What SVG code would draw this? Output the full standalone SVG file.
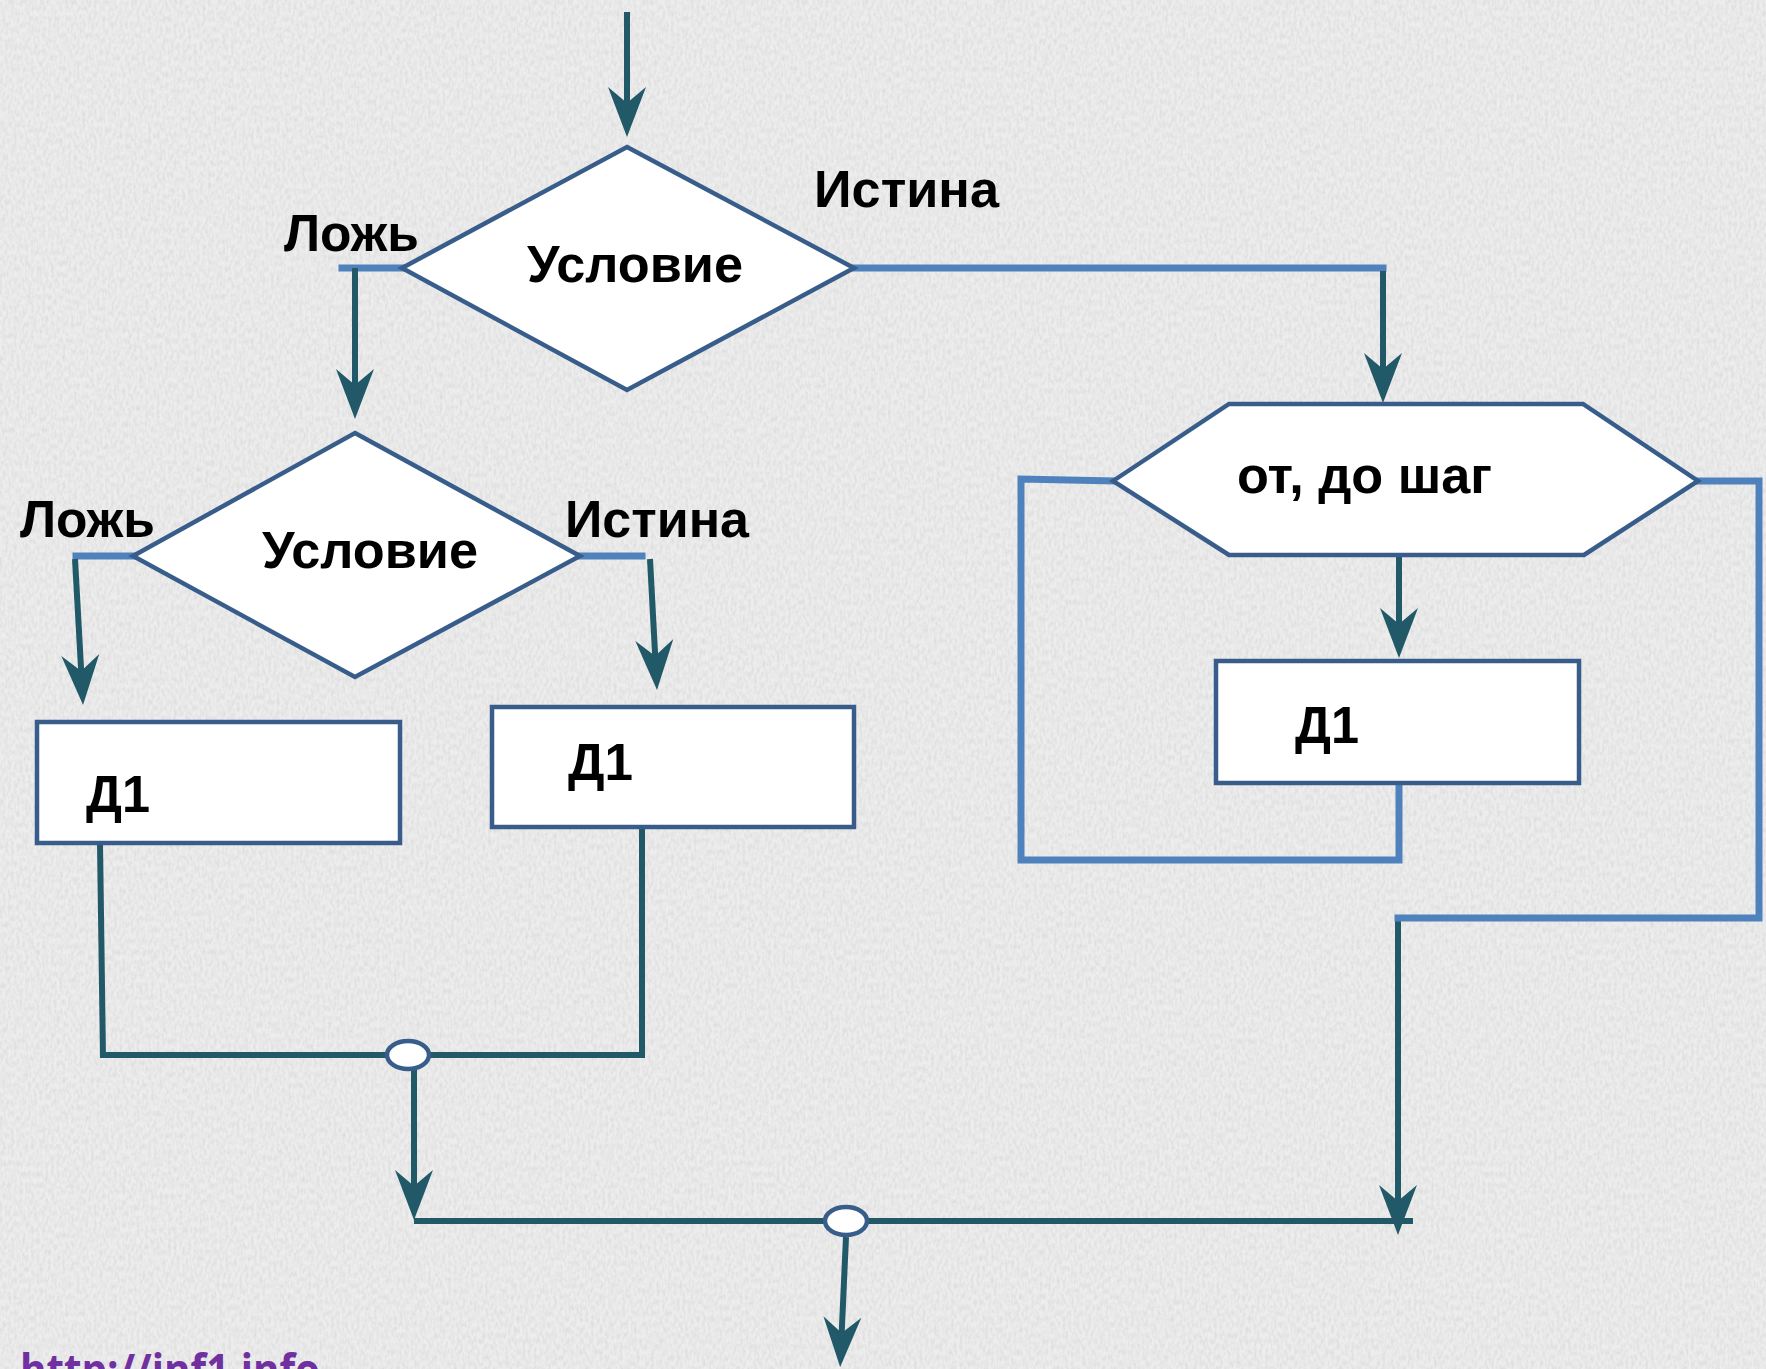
<svg xmlns="http://www.w3.org/2000/svg" width="1766" height="1369" viewBox="0 0 1766 1369">
  <style>
    .shape { fill: #ffffff; stroke: #385d8a; stroke-width: 4.5; stroke-linejoin: miter; }
    .flow { fill: none; stroke: #215968; stroke-width: 6; }
    .loop { fill: none; stroke: #4f81bd; stroke-width: 7; stroke-linecap: square; }
    .joint { fill: #ffffff; stroke: #385d8a; stroke-width: 4.5; }
    .lbl { font-family: "Liberation Sans", Arial, sans-serif; font-weight: bold; font-size: 52px; fill: #000000; }
    .url { font-family: "Open Sans", "Liberation Sans", sans-serif; font-weight: bold; font-size: 44px; fill: #7030a0; }
  </style>
  <defs>
    <marker id="arrow" markerUnits="userSpaceOnUse" viewBox="0 -20 50 40" markerWidth="50" markerHeight="40" refX="20" refY="0" orient="auto">
      <path d="M50,0 L0,-19 L16,0 L0,19 Z" fill="#215968"/>
    </marker>
    <filter id="grain" x="0" y="0" width="100%" height="100%">
      <feTurbulence type="fractalNoise" baseFrequency="0.35 0.18" numOctaves="3" seed="7" result="n"/>
      <feColorMatrix type="matrix" values="0 0 0 0 0.55  0 0 0 0 0.55  0 0 0 0 0.55  0 0 0 -1.6 1.05"/>
    </filter>
  </defs>

  <!-- stone-like page background -->
  <rect x="0" y="0" width="1766" height="1369" fill="#ededed"/>
  <rect x="0" y="0" width="1766" height="1369" filter="url(#grain)" opacity="0.45"/>

  <!-- connectors -->
  <g id="connectors">
    <!-- entry -->
    <path class="flow" d="M627,12 V107" marker-end="url(#arrow)"/>
    <!-- outer decision: false -->
    <path class="loop" d="M342,268 H402" stroke-linecap="butt"/>
    <path class="flow" d="M355,268 V389" marker-end="url(#arrow)"/>
    <!-- outer decision: true -->
    <path class="loop" d="M854,268 H1383" stroke-linecap="butt"/>
    <path class="flow" d="M1383,271 V373" marker-end="url(#arrow)"/>
    <!-- inner decision: false -->
    <path class="loop" d="M76,556 H133" stroke-linecap="butt"/>
    <path class="flow" d="M75,559 L81.4,675" marker-end="url(#arrow)"/>
    <!-- inner decision: true -->
    <path class="loop" d="M581,556 H642" stroke-linecap="butt"/>
    <path class="flow" d="M650,559 L655.4,660" marker-end="url(#arrow)"/>
    <!-- inner merge -->
    <path class="flow" d="M100,843 L103,1058"/>
    <path class="flow" d="M100,1055 H642"/>
    <path class="flow" d="M642,827 V1058"/>
    <path class="flow" d="M414,1070 V1190" marker-end="url(#arrow)"/>
    <!-- outer merge -->
    <path class="flow" d="M414,1221 H1413"/>
    <path class="flow" d="M846,1237 L841.5,1337" marker-end="url(#arrow)"/>
    <path class="flow" d="M1398,916 V1205" marker-end="url(#arrow)"/>
    <!-- loop exit -->
    <path class="loop" d="M1698,481 H1759 V918 H1398" stroke-linecap="butt"/>
    <!-- loop body -->
    <path class="flow" d="M1399,555 V628" marker-end="url(#arrow)"/>
    <path class="loop" d="M1399,783 V860 H1021 V479 L1113,481" stroke-linecap="butt"/>
  </g>

  <!-- outer condition -->
  <g id="cond-outer">
    <polygon class="shape" points="627,147 854,268 627,390 402,268"/>
    <text class="lbl" x="527" y="282" textLength="216" lengthAdjust="spacingAndGlyphs">Условие</text>
  </g>
  <g id="lbl-false-outer">
    <text class="lbl" x="284" y="251" textLength="135" lengthAdjust="spacingAndGlyphs">Ложь</text>
  </g>
  <g id="lbl-true-outer">
    <text class="lbl" x="814" y="207" textLength="185" lengthAdjust="spacingAndGlyphs">Истина</text>
  </g>

  <!-- inner condition -->
  <g id="cond-inner">
    <polygon class="shape" points="355,433 580,556 355,677 133,556"/>
    <text class="lbl" x="262" y="568" textLength="216" lengthAdjust="spacingAndGlyphs">Условие</text>
  </g>
  <g id="lbl-false-inner">
    <text class="lbl" x="20" y="537" textLength="135" lengthAdjust="spacingAndGlyphs">Ложь</text>
  </g>
  <g id="lbl-true-inner">
    <text class="lbl" x="565" y="537" textLength="184" lengthAdjust="spacingAndGlyphs">Истина</text>
  </g>

  <!-- actions -->
  <g id="act-left">
    <rect class="shape" x="37" y="722" width="363" height="121"/>
    <text class="lbl" x="86" y="812" textLength="64" lengthAdjust="spacingAndGlyphs">Д1</text>
  </g>
  <g id="act-mid">
    <rect class="shape" x="492" y="707" width="362" height="120"/>
    <text class="lbl" x="568" y="780" textLength="65" lengthAdjust="spacingAndGlyphs">Д1</text>
  </g>

  <!-- counted loop -->
  <g id="loop-head">
    <polygon class="shape" points="1113,481 1229,404 1583,404 1698,481 1584,555 1229,555"/>
    <text class="lbl" x="1237" y="493" textLength="255" lengthAdjust="spacingAndGlyphs">от, до шаг</text>
  </g>
  <g id="act-loop">
    <rect class="shape" x="1216" y="661" width="363" height="122"/>
    <text class="lbl" x="1295" y="743" textLength="64" lengthAdjust="spacingAndGlyphs">Д1</text>
  </g>

  <!-- merge points -->
  <g id="join-inner">
    <ellipse class="joint" cx="408" cy="1055" rx="21" ry="14"/>
  </g>
  <g id="join-outer">
    <ellipse class="joint" cx="846" cy="1221" rx="21" ry="14"/>
  </g>

  <g id="site">
    <text class="url" x="20" y="1386" textLength="300" lengthAdjust="spacingAndGlyphs">http://inf1.info</text>
  </g>
</svg>
